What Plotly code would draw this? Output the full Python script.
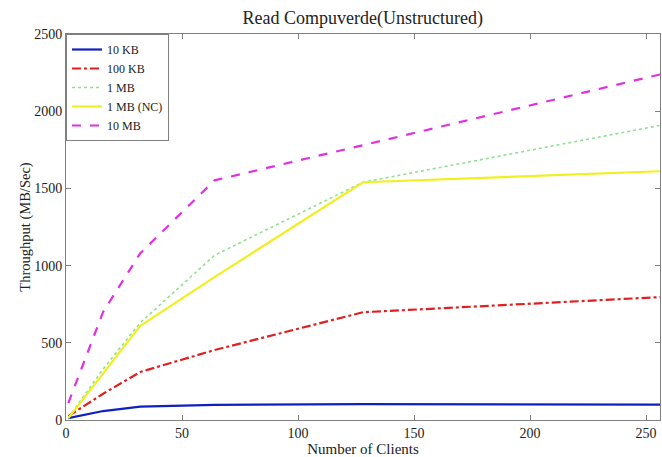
import plotly.graph_objects as go

clients = [1, 16, 32, 64, 128, 256]
kb10 = [12, 58, 86, 98, 103, 100]
kb100 = [25, 170, 311, 453, 698, 796]
mb1 = [15, 330, 630, 1067, 1540, 1908]
mb1_nc = [12, 300, 610, 925, 1540, 1611]
mb10 = [110, 700, 1080, 1552, 1780, 2238]
names = ["10 KB", "100 KB", "1 MB", "1 MB (NC)", "10 MB"]

series = [kb10, kb100, mb1, mb1_nc, mb10]
colors = ["#1020c0", "#e02020", "#90e090", "#f0f020", "#e030e0"]
dashes = ["solid", "dashdot", "dot", "solid", "dash"]
widths = [2.2, 2.2, 1.6, 2.2, 2.2]

fig = go.Figure()
for name, ys, c, d, w in zip(names, series, colors, dashes, widths):
    fig.add_trace(go.Scatter(x=clients, y=ys, name=name, mode="lines",
                             line=dict(color=c, dash=d, width=w)))

font = "Liberation Serif, Times New Roman, serif"
fig.update_layout(
    width=662, height=457,
    margin=dict(l=66, r=2, t=34, b=37),
    paper_bgcolor="white", plot_bgcolor="white",
    font=dict(family=font, size=13, color="#222"),
    title=dict(text="Read Compuverde(Unstructured)", x=0.548, xanchor="center",
               yref="container", y=0.962, yanchor="middle",
               font=dict(size=18, family=font)),
    showlegend=True,
    legend=dict(x=0.0, y=1.0, xanchor="left", yanchor="top",
                bgcolor="white", bordercolor="#808080", borderwidth=1,
                font=dict(size=12, family=font), tracegroupgap=0,
                itemwidth=30),
    xaxis=dict(range=[0, 256], tickvals=[0, 50, 100, 150, 200, 250],
               showgrid=False, zeroline=False, showline=True, linecolor="#808080",
               mirror="ticks", ticks="inside", ticklen=5, tickcolor="#808080",
               title=dict(text="Number of Clients", standoff=0,
                          font=dict(size=15, family=font)),
               tickfont=dict(size=14, family=font)),
    yaxis=dict(range=[0, 2500], tickvals=[0, 500, 1000, 1500, 2000, 2500],
               showgrid=False, zeroline=False, showline=True, linecolor="#808080",
               mirror="ticks", ticks="inside", ticklen=5, tickcolor="#808080",
               title=dict(text="Throughput (MB/Sec)", standoff=0,
                          font=dict(size=14.5, family=font)),
               tickfont=dict(size=14, family=font)),
)
fig.write_html("out.html", config={"displayModeBar": False},
               post_script="document.body.style.margin='0';document.body.style.overflow='hidden';")
